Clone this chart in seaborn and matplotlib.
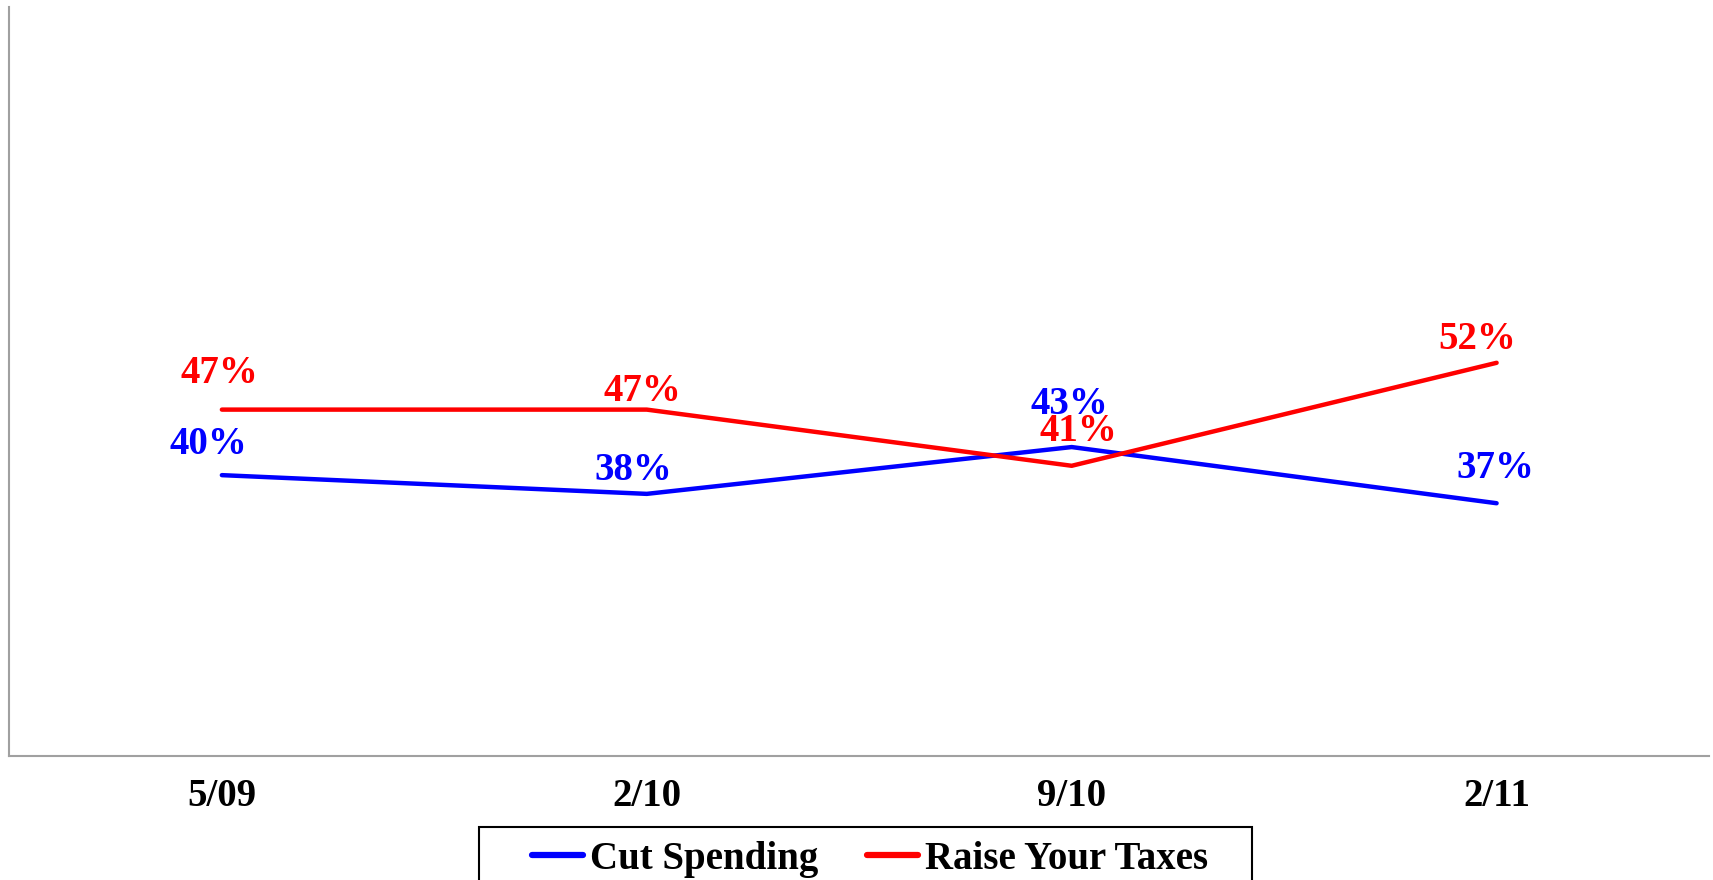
import matplotlib
matplotlib.use("Agg")
import matplotlib.pyplot as plt
from matplotlib.font_manager import FontProperties
from matplotlib.lines import Line2D
from matplotlib.patches import Rectangle
import seaborn as sns
import pandas as pd

categories = ["5/09", "2/10", "9/10", "2/11"]
cut_spending = [40, 38, 43, 37]
raise_taxes = [47, 47, 41, 52]
series_names = ["Cut Spending", "Raise Your Taxes"]
colors = ["#0000FF", "#FF0000"]

# label offsets in pixels (dx, dy up)
offsets = {
    "Cut Spending": [(-14, 31), (-13, 23), (-2, 43), (-1, 35)],
    "Raise Your Taxes": [(-3, 36), (-4, 18), (7, 34), (-19, 23)],
}

sns.set_style("white")
plt.rcParams["font.family"] = ["Liberation Serif", "DejaVu Serif"]
fp = FontProperties(family="Liberation Serif", weight="bold", size=28)

df = pd.DataFrame({
    "x": list(range(len(categories))) * 2,
    "value": cut_spending + raise_taxes,
    "series": [series_names[0]] * len(categories) + [series_names[1]] * len(categories),
})

fig = plt.figure(figsize=(17.13, 8.8), dpi=100)
ax = fig.add_axes([0.0055, 0.1409, 0.9922, 0.8511])
sns.lineplot(data=df, x="x", y="value", hue="series", palette=colors,
             linewidth=3.2, ax=ax, legend=False, sort=False)
for line in ax.lines:
    line.set_solid_capstyle("round")

ax.set_xlim(-0.5, 3.5)
ax.set_ylim(10, 90)
ax.set_xticks(range(len(categories)))
ax.set_xticklabels(categories)
for t in ax.get_xticklabels():
    t.set_fontproperties(fp)
    t.set_color("black")
ax.set_yticks([])
ax.tick_params(axis="x", length=0, pad=16)
ax.set_xlabel("")
ax.set_ylabel("")
for s in ["top", "right"]:
    ax.spines[s].set_visible(False)
for s in ["left", "bottom"]:
    ax.spines[s].set_color("#A0A0A0")
    ax.spines[s].set_linewidth(1.5)

for name, vals, col in zip(series_names, [cut_spending, raise_taxes], colors):
    for i, v in enumerate(vals):
        dx, dy = offsets[name][i]
        ax.annotate(f"{v}%", (i, v), xytext=(dx * 0.72, dy * 0.72),
                    textcoords="offset points", ha="center", va="center",
                    fontproperties=fp, color=col)

handles = [Line2D([0], [0], color=c, lw=4.5, solid_capstyle="round") for c in colors]
leg = fig.legend(handles, series_names, loc="center",
                 bbox_to_anchor=(0.5079, 0.0234), ncol=2, frameon=False,
                 handlelength=1.32, handletextpad=0.17,
                 columnspacing=1.25, borderpad=0, borderaxespad=0,
                 prop=fp)
for t in leg.get_texts():
    t.set_color("black")

frame = Rectangle((478.5 / 1713, -0.1), (1252 - 478.5) / 1713, 0.1 + 0.0602,
                  transform=fig.transFigure, fill=False, edgecolor="black",
                  linewidth=1.5, clip_on=False)
fig.patches.append(frame)

fig.savefig("out.png", dpi=100)
